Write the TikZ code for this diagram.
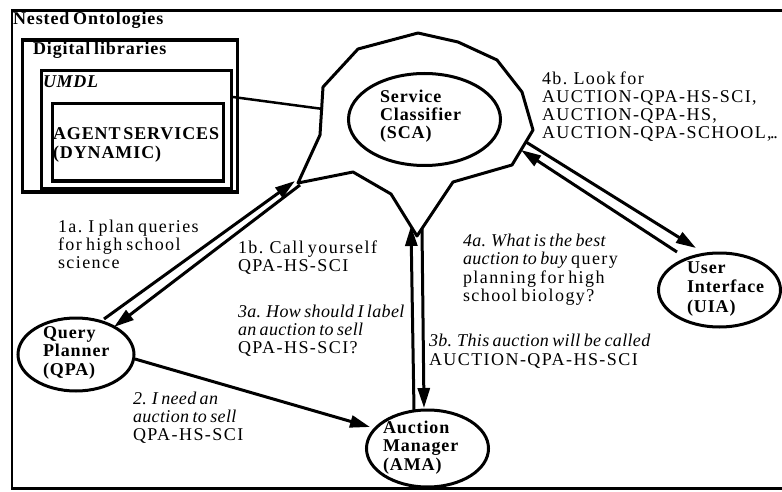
\documentclass[tikz,border=0pt]{standalone}
\usepackage{fontspec}
\setmainfont{Liberation Serif}[
  WordSpace=0.7,
  UprightFeatures={LetterSpace=8},
  BoldFeatures={LetterSpace=5},
  ItalicFeatures={LetterSpace=2},
  BoldItalicFeatures={LetterSpace=4}]
\usetikzlibrary{arrows.meta,shapes.geometric}
% #1 name prefix, #2 style, #3 x, #4 first baseline, #5 line step, #6 lines
\newcommand{\textlines}[6]{%
  \foreach \lineitem [count=\k from 0] in {#6}
    {\node[#2] (#1\k) at (#3,{#4+#5*\k}) {\lineitem};}}
\tikzset{
  lbl/.style={font=\fontsize{18}{18.5}\selectfont, anchor=base west, inner sep=0pt, outer sep=0pt},
  boldlbl/.style={lbl, font=\fontsize{18}{18.5}\selectfont\bfseries},
  boxframe/.style={draw, rectangle, line width=3.5pt, inner sep=0pt, outer sep=0pt},
  agent/.style={draw, ellipse, line width=3pt, inner sep=0pt, outer sep=0pt},
  msg/.style={line width=3pt, -{Triangle[length=20pt,width=12pt]}},
}
\begin{document}
\begin{tikzpicture}[x=1pt,y=-1pt]
\useasboundingbox (0,0) rectangle (782,492);

% nested ontology boxes
\node[boxframe, line width=2.5pt, minimum width=788pt, minimum height=478.2pt] (nested) at (406,249.4) {};
\node[boxframe, minimum width=215.4pt, minimum height=152pt] (diglib) at (130,116) {};
\node[boxframe, minimum width=190pt, minimum height=118.4pt] (umdl) at (136.3,129.5) {};
\node[boxframe, minimum width=171pt, minimum height=77.3pt] (agentsvc) at (138.2,142.35) {};

\node[boldlbl] (nestedT) at (13,25) {Nested Ontologies};
\node[boldlbl] (diglibT) at (33,55) {Digital libraries};
\node[boldlbl, font=\fontsize{18}{18.5}\selectfont\bfseries\itshape] (umdlT) at (43,88) {UMDL};
\textlines{agentsvcT}{boldlbl}{53}{140}{19}{AGENT\kern-1pt{} SERVICES,(DYNAMIC)}

% service classifier region
\coordinate (p1) at (418,33);
\coordinate (p2) at (458,42);
\coordinate (p3) at (497,60);
\coordinate (p4) at (522,92);
\coordinate (p5) at (533,130);
\coordinate (p6) at (512,165);
\coordinate (p7) at (453,182);
\coordinate (p8) at (417,236);
\coordinate (p9) at (391,194);
\coordinate (p10) at (353,172);
\coordinate (p11) at (298,183);
\coordinate (p12) at (320,135);
\coordinate (p13) at (323,87);
\coordinate (p14) at (358,49);
\draw[line width=3pt, line join=round] (p1) -- (p2) -- (p3) -- (p4) -- (p5) -- (p6) -- (p7) -- (p8)
  -- (p9) -- (p10) -- (p11) -- (p12) -- (p13) -- (p14) -- cycle;

% agents
\node[agent, minimum width=152pt, minimum height=92pt] (sca) at (424.5,119.5) {};
\node[agent, minimum width=116pt, minimum height=73pt] (qpa) at (76,354.5) {};
\node[agent, minimum width=122pt, minimum height=77pt] (ama) at (427.5,448.5) {};
\node[agent, minimum width=122pt, minimum height=74pt] (uia) at (719.5,290) {};

\textlines{scaT}{boldlbl}{380}{103}{18}{Service,Classifier,(SCA)}
\textlines{qpaT}{boldlbl}{43}{338}{18.5}{Query,Planner,(QPA)}
\textlines{amaT}{boldlbl}{383}{433}{18.5}{Auction,Manager,(AMA)}
\textlines{uiaT}{boldlbl}{687}{273}{19.5}{User,Interface,(UIA)}

% connector from the UMDL box to the classifier region
\coordinate (umdlE) at (233,97);
\coordinate (scaW) at (323,109);
\draw[line width=2.5pt] (umdlE) -- (scaW);

% message ends
\coordinate (a1s) at (104,319);
\coordinate (a1e) at (295,181);
\coordinate (b1s) at (300,185);
\coordinate (b1e) at (114,327);
\coordinate (a3s) at (414,410);
\coordinate (a3e) at (411,226);
\coordinate (b3s) at (422,229);
\coordinate (b3e) at (424,408);
\coordinate (a4s) at (677,252);
\coordinate (a4e) at (521,150);
\coordinate (b4s) at (526,142);
\coordinate (b4e) at (696,248);
\coordinate (m2s) at (135,359);
\coordinate (m2e) at (370,427);

\draw[msg] (a1s) -- (a1e);
\draw[msg] (b1s) -- (b1e);
\draw[msg] (m2s) -- (m2e);
\draw[msg] (a3s) -- (a3e);
\draw[msg] (b3s) -- (b3e);
\draw[msg] (a4s) -- (a4e);
\draw[msg] (b4s) -- (b4e);

% message texts
\textlines{t1a}{lbl}{58}{232}{18}{1a. I plan queries,for high school,science}
\textlines{t1b}{lbl}{238}{253}{18.5}{1b. Call yourself,QPA-HS-SCI}
\textlines{t3a}{lbl}{238}{317}{18}{{\itshape 3a. How should I label},{\itshape an auction to sell},QPA-HS-SCI?}
\textlines{t2}{lbl}{133}{404}{18}{{\itshape 2. I need an},{\itshape auction to sell},QPA-HS-SCI}
\textlines{t3b}{lbl}{429}{346}{19}{{\itshape 3b. This auction will be called},AUCTION-QPA-HS-SCI}
\textlines{t4a}{lbl}{463}{246}{18.5}{{\itshape 4a. What is the best},{{\itshape auction to buy} query},planning for high,school biology?}
\textlines{t4b}{lbl}{542}{85}{18}{4b. Look for,{AUCTION-QPA-HS-SCI,},{AUCTION-QPA-HS,}}
\node[lbl] (t4b3) at (542,139) {AUCTION-QPA-SCHOOL,\kern-1.5pt.\kern-1.5pt.};
\end{tikzpicture}
\end{document}
